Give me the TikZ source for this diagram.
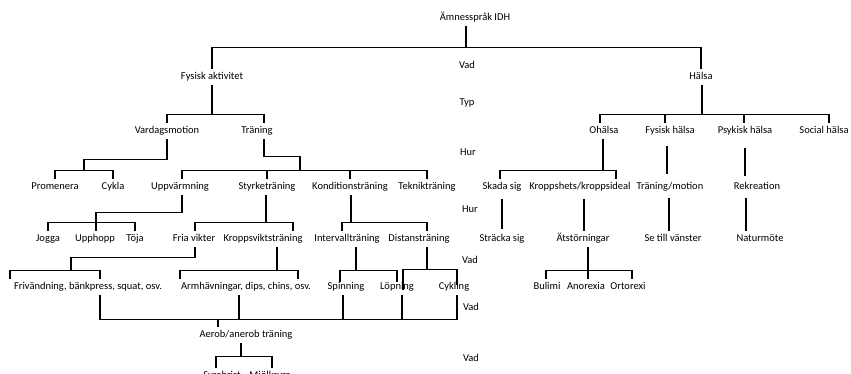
\documentclass[tikz,border=0pt]{standalone}
\usepackage{fontspec}
\setmainfont{Carlito}
\usepackage{tikz}
\usetikzlibrary{positioning,calc}

\begin{document}
\begin{tikzpicture}[
    x=1pt, y=1pt,
    term/.style={inner xsep=1pt, inner ysep=3pt, text height=7.5pt, text depth=2.5pt,
                 font=\fontsize{10.5}{12}\selectfont},
    axislbl/.style={term},
    conn/.style={draw=black, line width=1.1pt}
]
    \useasboundingbox (0,0) rectangle (851,-373);

    \node[term] (titel) at (475,-18) {Ämnesspråk IDH};
    \node[term] (fysisk) at (212,-77) {Fysisk aktivitet};
    \node[term] (halsa) at (701,-77) {Hälsa};

    \node[term] (vardag) at (167,-131) {Vardagsmotion};
    \node[term] (traning) at (257,-131) {Träning};
    \node[term] (ohalsa) at (604,-131) {Ohälsa};
    \node[term] (fyshalsa) at (670,-131) {Fysisk hälsa};
    \node[term] (psykhalsa) at (745,-131) {Psykisk hälsa};
    \node[term] (socialhalsa) at (824,-131) {Social hälsa};

    \node[term] (promenera) at (55,-187) {Promenera};
    \node[term] (cykla) at (113,-187) {Cykla};
    \node[term] (uppv) at (180,-187) {Uppvärmning};
    \node[term] (styrke) at (267,-187) {Styrketräning};
    \node[term] (kondition) at (350,-187) {Konditionsträning};
    \node[term] (teknik) at (427,-187) {Teknikträning};
    \node[term] (skada) at (502,-187) {Skada sig};
    \node[term] (kroppshets) at (580,-187) {Kroppshets/kroppsideal};
    \node[term] (traningmotion) at (670,-187) {Träning/motion};
    \node[term] (rekreation) at (757,-187) {Rekreation};

    \node[term] (jogga) at (48,-239) {Jogga};
    \node[term] (upphopp) at (95,-239) {Upphopp};
    \node[term] (toja) at (135,-239) {Töja};
    \node[term] (fria) at (194,-239) {Fria vikter};
    \node[term] (kroppsvikt) at (263,-239) {Kroppsviktsträning};
    \node[term] (intervall) at (347,-239) {Intervallträning};
    \node[term] (distans) at (419,-239) {Distansträning};
    \node[term] (stracka) at (502,-239) {Sträcka sig};
    \node[term] (atst) at (583,-239) {Ätstörningar};
    \node[term] (setill) at (673,-239) {Se till vänster};
    \node[term] (naturmote) at (760,-239) {Naturmöte};

    \node[term] (frivand) at (88,-287) {Frivändning, bänkpress, squat, osv.};
    \node[term] (armhav) at (246,-287) {Armhävningar, dips, chins, osv.};
    \node[term] (spinning) at (346,-287) {Spinning};
    \node[term] (lopning) at (397,-287) {Löpning};
    \node[term] (cykling) at (454,-287) {Cykling};
    \node[term] (bulimi) at (547,-287) {Bulimi};
    \node[term] (anorexia) at (586,-287) {Anorexia};
    \node[term] (ortorexi) at (628,-287) {Ortorexi};

    \node[term] (aerob) at (246,-335) {Aerob/anerob träning};
    \node[term] (syrebrist) at (222,-376) {Syrebrist};
    \node[term] (mjolk) at (270,-376) {Mjölksyra};

    \node[axislbl] (vad1) at (467,-66) {Vad};
    \node[axislbl] (typ) at (467,-103) {Typ};
    \node[axislbl] (hur1) at (468,-153) {Hur};
    \node[axislbl] (hur2) at (470,-210) {Hur};
    \node[axislbl] (vad2) at (470,-261) {Vad};
    \node[axislbl] (vad3) at (471,-308) {Vad};
    \node[axislbl] (vad4) at (471,-359) {Vad};

    \draw[conn] ([xshift=-9pt]titel.south) -- ++(0,-22);
    \draw[conn] (fysisk.north) -- ++(0,21) -| (halsa.north);

    \draw[conn] (fysisk.south) -- ++(0,-30);
    \draw[conn] (vardag.north) -- ++(0,8) -| ([xshift=7pt]traning.north);

    \draw[conn] (vardag.south) -- ++(0,-20) -| ++(-83,-12);
    \draw[conn] (promenera.north) -- ++(0,8) -| (cykla.north);

    \draw[conn] ([xshift=7pt]traning.south) -- ++(0,-17) -| ++(36,-15);
    \draw[conn] ([xshift=2pt]uppv.north) -- ++(0,8) -| (teknik.north);
    \draw[conn] (styrke.north) -- ++(0,8);
    \draw[conn] (kondition.north) -- ++(0,8);

    \draw[conn] ([xshift=2pt]uppv.south) -- ++(0,-17) -| ++(-86,-11);
    \draw[conn] (jogga.north) -- ++(0,8) -| (toja.north);
    \draw[conn] ([xshift=1pt]upphopp.north) -- ++(0,8);

    \draw[conn] ([xshift=-1pt]styrke.south) -- ++(0,-28);
    \draw[conn] ([xshift=1pt]fria.north) -- ++(0,8) -| ([xshift=30pt]kroppsvikt.north);

    \draw[conn] ([xshift=1pt]kondition.south) -- ++(0,-28);
    \draw[conn] ([xshift=-5pt]intervall.north) -- ++(0,8) -| ([xshift=8pt]distans.north);

    \draw[conn] ([xshift=1pt]fria.south) -- ++(0,-10) -| ++(-124,-14);
    \draw[conn] ([xshift=-78pt]frivand.north) -- ++(0,8) -| ([xshift=12pt]frivand.north);

    \draw[conn] ([xshift=14pt]kroppsvikt.south) -- ++(0,-24);
    \draw[conn] ([xshift=-66pt]armhav.north) -- ++(0,8) -| ([xshift=52pt]armhav.north);

    \draw[conn] ([xshift=9pt]intervall.south) -- ++(0,-24);
    \draw[conn] ([xshift=-6pt,yshift=-3pt]spinning.north) -- ++(0,11) -| ([yshift=-3pt]lopning.north);

    \draw[conn] ([xshift=8pt]distans.south) -- ++(0,-23);
    \draw[conn] ([xshift=6pt,yshift=-11pt]lopning.north) -- ++(0,20) -| ([xshift=3pt,yshift=-6pt]cykling.north);

    \draw[conn] ([xshift=12pt]frivand.south) -- ++(0,-24) -| ([xshift=3pt]cykling.south);
    \draw[conn] ([xshift=-7pt]armhav.south) -- ++(0,-24);
    \draw[conn] ([xshift=-3pt]spinning.south) -- ++(0,-24);
    \draw[conn] ([xshift=5pt]lopning.south) -- ++(0,-24);
    \draw[conn] ([xshift=-28pt]aerob.north) -- ++(0,8);

    \draw[conn] ([xshift=-5pt]aerob.south) -- ++(0,-14);
    \draw[conn] ([xshift=-6pt]syrebrist.north) -- ++(0,11) -| ([xshift=2pt]mjolk.north);

    \draw[conn] ([xshift=1pt]halsa.south) -- ++(0,-30);
    \draw[conn] ([xshift=-4pt]ohalsa.north) -- ++(0,8) -| ([xshift=5pt]socialhalsa.north);
    \draw[conn] ([xshift=-5pt]fyshalsa.north) -- ++(0,8);
    \draw[conn] ([xshift=-1pt]psykhalsa.north) -- ++(0,8);

    \draw[conn] ([xshift=-1pt]ohalsa.south) -- ++(0,-32);
    \draw[conn] ([xshift=-2pt]skada.north) -- ++(0,8) -| ([xshift=36pt]kroppshets.north);

    \draw[conn, shorten <=7pt, shorten >=5pt] ([xshift=-3pt]fyshalsa.south) -- ([xshift=-3pt]fyshalsa.south |- traningmotion.north);
    \draw[conn, shorten <=9pt, shorten >=3pt] (psykhalsa.south) -- (psykhalsa.south |- rekreation.north);
    \draw[conn, shorten <=4pt, shorten >=2pt] (skada.south) -- (stracka.north);
    \draw[conn, shorten <=4pt] ([xshift=4pt]kroppshets.south) -- ([xshift=1pt]atst.north);
    \draw[conn, shorten <=3pt] ([xshift=-1pt]traningmotion.south) -- ([xshift=-4pt]setill.north);
    \draw[conn, shorten <=3pt] ([xshift=-11pt]rekreation.south) -- ([xshift=-14pt]naturmote.north);

    \draw[conn] ([xshift=5pt]atst.south) -- ++(0,-24);
    \draw[conn] ([xshift=-1pt]bulimi.north) -- ++(0,8) -| ([xshift=4pt]ortorexi.north);
    \draw[conn] ([xshift=2pt]anorexia.north) -- ++(0,8);
\end{tikzpicture}
\end{document}
